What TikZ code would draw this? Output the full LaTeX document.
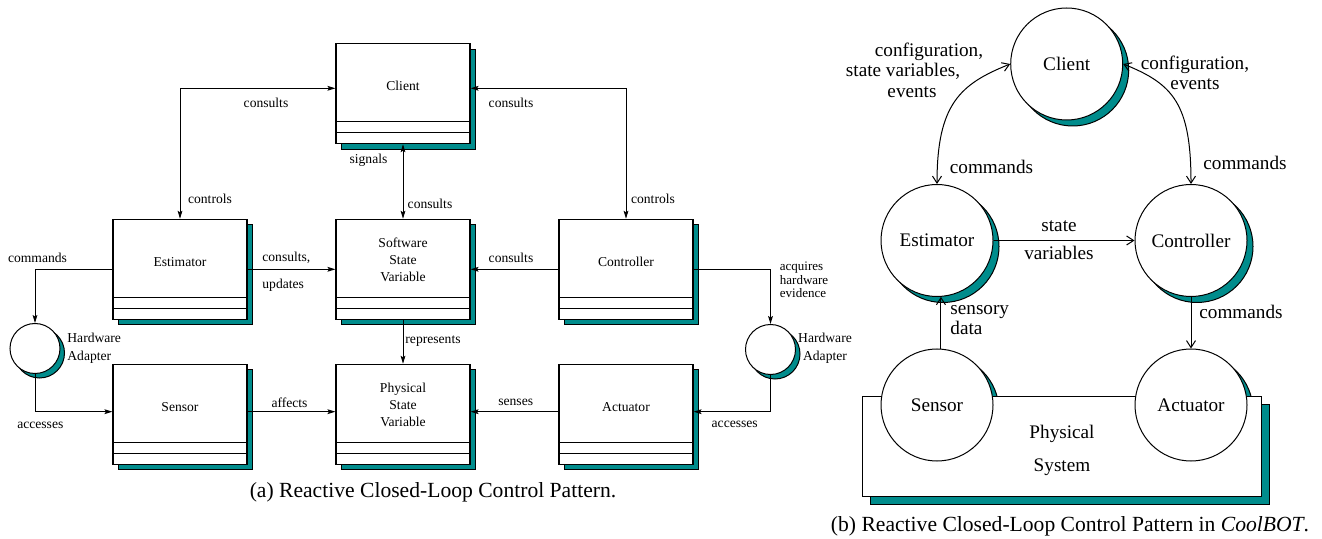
\documentclass[tikz,border=0pt]{standalone}
\usepackage{fontspec}
\setmainfont{Liberation Serif}
\usepackage{tikz}
\usetikzlibrary{arrows.meta,positioning,shadows}
\definecolor{ShadowTeal}{RGB}{0,140,140}
\pgfdeclarelayer{back}
\pgfsetlayers{back,main}
\tikzset{
  tealshadow/.style={drop shadow={shadow xshift=#1,shadow yshift=-#1,
    fill=ShadowTeal,draw=black,opacity=1}},
  classbox/.style={draw,fill=white,line width=0.55pt,minimum width=67pt,
    minimum height=50pt,align=center,text depth=7.5pt,
    font=\fontsize{6.8}{8.5}\selectfont,tealshadow=2.75pt},
  adapter/.style={circle,draw,fill=white,line width=0.5pt,minimum size=25pt,
    inner sep=0pt,tealshadow=2.25pt},
  module/.style={circle,draw,fill=white,line width=0.5pt,minimum size=56pt,
    inner sep=0pt,font=\fontsize{9.6}{10}\selectfont},
  system/.style={draw,fill=white,line width=0.5pt,minimum width=199.7pt,
    minimum height=50pt,align=center,font=\fontsize{9.6}{16.5}\selectfont,
    text height=27.1pt,tealshadow=4pt},
  small/.style={font=\fontsize{6.8}{8.8}\selectfont,inner sep=0pt},
  tiny/.style={font=\fontsize{6.5}{6.7}\selectfont,inner sep=0pt},
  big/.style={font=\fontsize{9.6}{10}\selectfont,inner sep=0pt},
  caption/.style={font=\fontsize{10.8}{12}\selectfont,inner sep=0pt},
  arrow/.style={line width=0.5pt,>={Stealth[length=4pt,width=2.4pt,inset=0.8pt]}},
  openarrow/.style={line width=0.5pt,>={Straight Barb[length=3.5pt,width=4.5pt]}}
}

\begin{document}
\begin{tikzpicture}[x=0.5pt,y=-0.5pt]
\useasboundingbox (0,0) rectangle (1322,539);

% (a) reactive closed-loop control pattern
\node[classbox] (cli) at (403,93.7) {Client};
\node[classbox] (est) at (180,269.3) {Estimator};
\node[classbox,text depth=9.5pt] (ssv) at (403,269.3) {Software\\State\\Variable};
\node[classbox] (ctl) at (626,269.3) {Controller};
\node[classbox] (sen) at (180,414.3) {Sensor};
\node[classbox,text depth=9.5pt] (psv) at (403,414.3) {Physical\\State\\Variable};
\node[classbox] (act) at (626,414.3) {Actuator};
\foreach \b in {cli,est,ssv,ctl,sen,psv,act}
  \draw[line width=0.55pt] ([yshift=5.65pt]\b.south west) -- ([yshift=5.65pt]\b.south east)
    ([yshift=11.35pt]\b.south west) -- ([yshift=11.35pt]\b.south east);

\node[adapter] (hwl) at (35,348.5) {};
\node[adapter] (hwr) at (770.5,349.5) {};

\draw[arrow,<->] (est.north) |- ([yshift=2.7pt]cli.west);
\draw[arrow,<->] (ctl.north) |- ([yshift=2.7pt]cli.east);
\draw[arrow,<->] (cli.south) -- (ssv.north);
\draw[arrow,->] (est.east) -- (ssv.west);
\draw[arrow,->] (ctl.west) -- (ssv.east);
\draw[arrow,->] (ssv.south) -- (psv.north);
\draw[arrow,->] (est.west) -| (hwl.north);
\draw[arrow,->] (hwl.south) |- ([yshift=1.3pt]sen.west);
\draw[arrow,->] ([yshift=1.3pt]sen.east) -- ([yshift=1.3pt]psv.west);
\draw[arrow,->] ([yshift=1.3pt]act.west) -- ([yshift=1.3pt]psv.east);
\draw[arrow,->] (ctl.east) -| (hwr.north);
\draw[arrow,->] (hwr.south) |- ([yshift=1.3pt]act.east);

\node[small] (lcons1) at (266,102.7) {consults};
\node[small] (lctrl1) at (210,199) {controls};
\node[small] (lcons2) at (511,102.7) {consults};
\node[small] (lctrl2) at (653,199) {controls};
\node[small] (lsig) at (368.5,160) {signals};
\node[small] (lcons3) at (430,203.7) {consults};
\node[small,anchor=west] (lcons4) at (262,258) {consults,};
\node[small,anchor=west] (lupd) at (262,285) {updates};
\node[small] (lcons5) at (511,258) {consults};
\node[small] (lcmd1) at (37.5,258) {commands};
\node[small,anchor=west,align=left] (lhwl) at (67,348) {Hardware\\Adapter};
\node[small] (lacc1) at (40.3,425) {accesses};
\node[small] (laff) at (289.5,402.7) {affects};
\node[small] (lrep) at (433,341) {represents};
\node[small] (lsen) at (515.7,402.7) {senses};
\node[tiny,anchor=west,align=left] (lacq) at (779.5,280) {acquires\\hardware\\evidence};
\node[small] (lacc2) at (734.7,424) {accesses};
\node[small,align=center] (lhwr) at (825,348) {Hardware\\Adapter};
\node[caption] (capa) at (433,492.7) {(a) Reactive Closed-Loop Control Pattern.};

% (b) the same pattern in CoolBOT
\node[module,tealshadow=3pt] (cli2) at (1066.7,64) {Client};
\node[module,tealshadow=3pt] (est2) at (937,240.5) {Estimator};
\node[module,tealshadow=3pt] (ctl2) at (1191,240.5) {Controller};
\node[system] (phys) at (1062,446.7) {Physical\\System};
\node[module] (sen2) at (937,405) {Sensor};
\node[module] (act2) at (1191,405) {Actuator};
\begin{pgfonlayer}{back}
  \foreach \m in {sen2,act2}
    \filldraw[fill=ShadowTeal,line width=0.5pt] ([shift={(3pt,-3pt)}]\m.center) circle[radius=28pt];
\end{pgfonlayer}

\draw[openarrow,<->] (est2.north) .. controls +(0,-80) and +(-50,20) .. (cli2.west);
\draw[openarrow,<->] (ctl2.north) .. controls +(0,-80) and +(50,20) .. (cli2.east);
\draw[openarrow,->] (est2.east) -- (ctl2.west);
\draw[openarrow,->] (sen2.86) -- (est2.274);
\draw[openarrow,->] (ctl2.south) -- (act2.north);

\node[big] (lcfg1a) at (929,51.7) {configuration,};
\node[big] (lcfg1b) at (903,71.7) {state variables,};
\node[big] (lcfg1c) at (912,91.7) {events};
\node[big] (lcmd2) at (991.5,166.7) {commands};
\node[big,align=center] (lcfg2) at (1195,73.3) {configuration,\\events};
\node[big] (lcmd3) at (1245,163.3) {commands};
\node[big] (lstate) at (1059,225.7) {state};
\node[big] (lvars) at (1059,253.3) {variables};
\node[big,anchor=west,align=left,font=\fontsize{9.6}{8.7}\selectfont] (ldata) at (950,320.3) {sensory\\data};
\node[big] (lcmd4) at (1241,311.7) {commands};
\node[caption] (capb) at (1070,526.7) {(b) Reactive Closed-Loop Control Pattern in \textit{CoolBOT}.};
\end{tikzpicture}
\end{document}
